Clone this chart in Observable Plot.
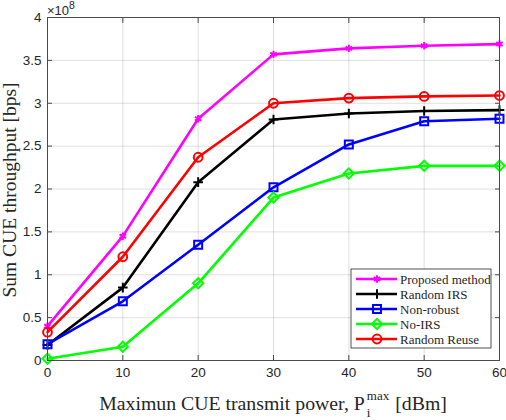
<!DOCTYPE html>
<html>
<head>
<meta charset="utf-8">
<script src="https://cdn.jsdelivr.net/npm/d3@7"></script>
<script src="https://cdn.jsdelivr.net/npm/@observablehq/plot@0.6"></script>
<style>
  body { margin: 0; background: #fff; }
  #chart { width: 506px; height: 420px; }
</style>
</head>
<body>
<div id="chart"></div>
<script>
// sum CUE throughput, units of 1e8 bps
const power = [0, 10, 20, 30, 40, 50, 60];
const proposed    = [0.40, 1.45, 2.82, 3.57, 3.64, 3.67, 3.69];
const randomIRS   = [0.18, 0.85, 2.08, 2.81, 2.88, 2.91, 2.92];
const nonRobust   = [0.19, 0.69, 1.35, 2.02, 2.52, 2.79, 2.82];
const noIRS       = [0.02, 0.16, 0.90, 1.90, 2.18, 2.27, 2.27];
const randomReuse = [0.33, 1.21, 2.37, 3.00, 3.06, 3.08, 3.09];

const seriesNames = ["Proposed method", "Random IRS", "Non-robust", "No-IRS", "Random Reuse"];
const seriesValues = [proposed, randomIRS, nonRobust, noIRS, randomReuse];
const xTicks = [0, 10, 20, 30, 40, 50, 60];
const yTicks = [0, 0.5, 1, 1.5, 2, 2.5, 3, 3.5, 4];

// look of each series (matlab style)
const styles = [
  {color: "#ff00ff", symbol: "asterisk", r: 3.5},
  {color: "#000000", symbol: "plus", r: 3.2},
  {color: "#0000ff", symbol: "square", r: 4.5},
  {color: "#00ff00", symbol: "diamond2", r: 4.6},
  {color: "#ff0000", symbol: "circle", r: 4.4}
];
const d3Symbols = {
  asterisk: d3.symbolAsterisk, plus: d3.symbolPlus, square: d3.symbolSquare,
  diamond2: d3.symbolDiamond2, circle: d3.symbolCircle
};

const rows = seriesNames.flatMap((name, i) =>
  power.map((p, j) => ({series: name, power: p, value: seriesValues[i][j]})));

const axisColor = "#4a4a4a";
const textColor = "#262626";

const seriesMarks = seriesNames.flatMap((name, i) => {
  const d = rows.filter(r => r.series === name);
  const s = styles[i];
  return [
    Plot.line(d, {x: "power", y: "value", stroke: s.color, strokeWidth: 2.6}),
    Plot.dot(d, {x: "power", y: "value", symbol: () => s.symbol, stroke: s.color,
      fill: "none", r: s.r, strokeWidth: 2})
  ];
});

const chart = Plot.plot({
  width: 506,
  height: 420,
  marginLeft: 47,
  marginRight: 7,
  marginTop: 17,
  marginBottom: 60,
  style: {fontFamily: "Liberation Sans, Arial, sans-serif", fontSize: "13.5px", color: textColor, background: "#fff", overflow: "visible"},
  x: {domain: [0, 60]},
  y: {domain: [0, 4]},
  symbol: {type: "identity"},
  marks: [
    Plot.gridX(xTicks, {stroke: textColor, strokeOpacity: 0.15}),
    Plot.gridY(yTicks, {stroke: textColor, strokeOpacity: 0.15}),
    ...seriesMarks,
    Plot.frame({stroke: axisColor}),
    Plot.axisX(xTicks, {anchor: "bottom", tickSize: 0, tickPadding: 7, label: null}),
    Plot.axisY(yTicks, {anchor: "left", tickSize: 0, tickPadding: 6, label: null, tickFormat: d => String(d)}),
    Plot.axisX(xTicks, {anchor: "bottom", tickSize: -5, tickFormat: () => "", label: null, stroke: axisColor}),
    Plot.axisX(xTicks, {anchor: "top", tickSize: -5, tickFormat: () => "", label: null, stroke: axisColor}),
    Plot.axisY(yTicks, {anchor: "left", tickSize: -5, tickFormat: () => "", label: null, stroke: axisColor}),
    Plot.axisY(yTicks, {anchor: "right", tickSize: -5, tickFormat: () => "", label: null, stroke: axisColor})
  ]
});

d3.select("#chart").append(() => chart);

const svg = d3.select(chart);
const serif = "Liberation Serif, Times New Roman, serif";

// exponent above the y axis
const ex = svg.append("text")
  .attr("x", 47).attr("y", 14.5).attr("text-anchor", "start")
  .attr("font-family", "Liberation Sans, Arial, sans-serif")
  .attr("font-size", 13).attr("fill", textColor);
ex.append("tspan").text("×10");
ex.append("tspan").attr("dy", -5.5).attr("font-size", 10.5).text("8");

// y label
svg.append("text")
  .attr("transform", "translate(16,190) rotate(-90)")
  .attr("text-anchor", "middle")
  .style("font-family", serif).attr("font-size", 19.5)
  .attr("fill", textColor)
  .text("Sum CUE throughput [bps]");

// x label with stacked sub/superscript
const xl = svg.append("g").style("font-family", serif).attr("fill", textColor).attr("text-anchor", "start");
const t1 = xl.append("text").attr("y", 410).attr("font-size", 19.8).text("Maximun CUE transmit power, P");
const tSup = xl.append("text").attr("y", 400).attr("font-size", 13).text("max");
const tSub = xl.append("text").attr("y", 417).attr("font-size", 13).text("i");
const t2 = xl.append("text").attr("y", 410).attr("font-size", 19.8).text("[dBm]");
const w1 = t1.node().getComputedTextLength();
const wS = Math.max(tSup.node().getComputedTextLength(), tSub.node().getComputedTextLength());
const w2 = t2.node().getComputedTextLength();
const total = w1 + 2 + wS + 6 + w2;
const x0 = 273 - total / 2;
t1.attr("x", x0);
tSup.attr("x", x0 + w1 + 2);
tSub.attr("x", x0 + w1 + 2);
t2.attr("x", x0 + w1 + 2 + wS + 6);

// legend box
const lg = svg.append("g").attr("transform", "translate(351,269)");
lg.append("rect").attr("width", 140).attr("height", 79)
  .attr("fill", "#fff").attr("stroke", textColor).attr("stroke-width", 0.8);
seriesNames.forEach((name, i) => {
  const s = styles[i];
  const y = 10 + i * 15;
  lg.append("line").attr("x1", 5).attr("x2", 46).attr("y1", y).attr("y2", y)
    .attr("stroke", s.color).attr("stroke-width", 2.6);
  lg.append("path")
    .attr("transform", `translate(26,${y})`)
    .attr("d", d3.symbol(d3Symbols[s.symbol], Math.PI * s.r * s.r)())
    .attr("fill", "none").attr("stroke", s.color).attr("stroke-width", 2);
  lg.append("text").attr("x", 49).attr("y", y + 4.5).attr("text-anchor", "start")
    .style("font-family", serif).attr("font-size", 13).attr("fill", textColor)
    .text(name);
});
</script>
</body>
</html>
